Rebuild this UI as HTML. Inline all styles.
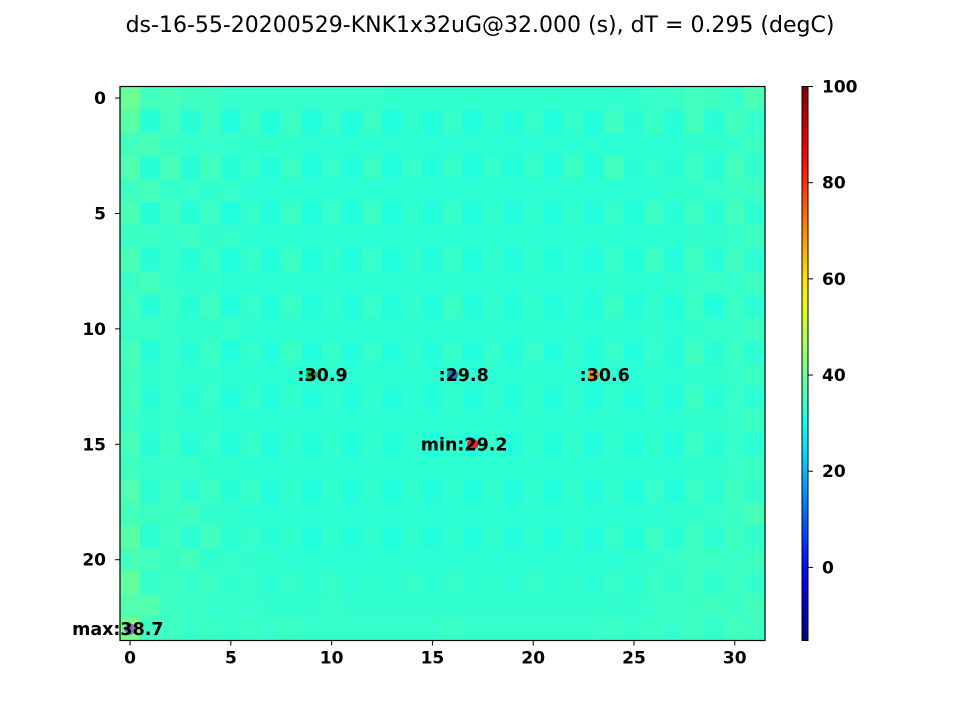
<!DOCTYPE html>
<html><head><meta charset="utf-8">
<style>
body{margin:0;background:#fff;}
svg{display:block;font-family:"DejaVu Sans","Liberation Sans",sans-serif;}
.tk{font-size:17px;font-weight:bold;fill:#000;}
.an{font-size:17.5px;font-weight:bold;fill:#000;}
</style></head>
<body>
<svg id="chart" width="960" height="720" viewBox="0 0 960 720">
<text x="480" y="32" text-anchor="middle" font-size="22">ds-16-55-20200529-KNK1x32uG@32.000 (s), dT = 0.295 (degC)</text>
<g id="cells"></g>
<g id="axes"></g>
<g id="cbar"></g>
<g id="ann"></g>
</svg>
<script>
const rowsData = [
[39,34.5,35,34,34,33,33,33,33,33,33,33,33,32.5,32.5,32.5,32.5,32.5,32.5,32.5,32.5,32.5,32.5,32.5,32.5,32.5,33,33.5,34.5,34,33,35.5],
[37,31.5,34.5,31.5,34,31,33.5,31,33.5,31,33,31,33.5,31,32.5,31,33,31,32.5,31,33,31,33,31,34,31.5,33.5,31.5,34.5,31.5,34.5,33],
[34.5,35,33.5,33,33,33,32.5,32.5,32.5,32,32,32,32,32,32,32,32,32,32,32,32,32,32,32,32,32,32,32,32.5,32.5,33,33.5],
[36,31.5,35,31.5,34.5,31.5,33,31,33.5,31,33,31,33.5,31,33,31,33,31,33,31,33,31,33.5,31,34.5,31.5,33,31.5,33.5,31.5,34.5,32.5],
[34,34.5,33,33,32.5,33,32,32,32,32,32,32,32,32,32,32,32,32,32,32,32,32,32,32,32,32,32,32.5,32.5,33,33.5,34],
[35.5,31.5,34,31.5,33.5,31,33,31,33.5,31,33,31,33.5,31,32.5,31,33,31,32.5,31,32.5,31,32.5,31,33,31,33.5,31.5,34,31.5,34.5,32],
[33.5,33.5,33,33.5,32.5,33,32,32,32,32,32,32,32,32,32,32,32,32,32,32,32,32,32,32,32,32,32,32,32.5,32.5,33,34],
[35,31.5,33,31.5,33.5,31,33,31,33.5,31,32.5,31,33,31,32.5,31,33,31,32.5,31,32.5,31,32,31,33,31,33.5,31,34,31.5,34,32],
[33.5,34.5,33,32.5,32.5,32,32,32,32,32,32,32,32,32,32,32,32,32,32,32,32,32,32,32,32.5,32,32,32.5,33,33.5,33,34],
[34.5,31.5,33.5,31.5,34,31,33,31,33.5,31,32.5,31,33,31,32.5,31,33.5,31,32.5,31,32.5,31,32,31,33.5,31,32.5,31,33.5,31,33.5,32],
[33.5,33.5,33,32.5,32.5,33,32,32,32,32,32,32,32,32,32,32,32,32,32,32,32,32,32,32,32,32,32.5,32,32.5,33,33,34],
[35,31.5,33,31.5,33.5,31,33,31,33.5,31,33,31,33,31,32.5,31,33,31,33,31,33,31,32.5,31,33,31,33,31,34,31.5,33.5,32],
[34,32.5,33,32.5,32.5,32,32,32,32,32,32,32,32,32,32,32,32,32,32,32,32,32,32,32,32,32,32,32,32.5,32.5,33,33.5],
[34.5,31.5,33,31.5,33,31,33,31,32.5,31,32.5,31,32.5,31,32,31,32.5,31,32.5,31,32.5,31,32.5,31,32.5,31,32.5,31,33.5,31.5,33,32],
[33.5,32.5,33,32.5,32.5,32,32,32,32,32,32,32,32,32,32,32,32,32,32,32,32,32,32,32,32,32,32,32,32.5,32.5,33,33.5],
[35,31.5,33.5,31.5,33,31,33,31,32.5,31,32.5,31,32.5,31,32.5,31,32.5,31,32.5,31,32.5,31,32.5,31,32.5,31,32.5,31,33.5,31.5,33,32],
[34,33,33,33,32.5,32.5,32,32,32,32,32,32,32,32,32,32,32,32,32,32,32,32,32,32,32,32,32,32,32.5,32.5,33,33.5],
[36,32,34,32,33.5,31.5,33,31,32.5,31,32.5,31,32.5,31,32.5,31,32.5,31,32.5,31,32.5,31,32.5,31,32.5,31,33,31,33.5,32,34,32.5],
[34.5,33.5,33.5,34,32.5,32.5,32,32,32,32,32,32,32,32,32,32,32,32,32,32,32,32,32,32,32,32,32,32.5,32.5,33,33.5,35],
[37,32,34,32,34.5,32,33,31.5,32.5,31,32.5,31,32.5,31,32.5,31,32.5,31,32.5,31,32.5,31,32.5,31,33,31,33.5,31.5,34,32,34,32.5],
[35,34.5,33.5,34.5,32.5,33,32.5,32.5,32,32,32,32,32,32,32,32,32,32,32,32,32,32,32,32,32,32.5,32.5,33,33.5,33.5,33.5,34],
[38,33,34,33,33.5,32.5,33,32,33,32,33,32,32.5,32,33,32,33,32,32.5,32,33,32,32.5,32,33,32,33.5,32.5,34,32.5,34,33],
[36,36,34,33.5,33,33,33,32.5,32.5,32.5,33,32.5,32.5,32.5,32.5,32.5,32.5,32.5,32.5,32.5,32.5,32.5,32.5,32.5,32.5,32.5,33,33.5,33.5,34,33.5,34.5],
[40,34,34,33,33.5,33,33.5,33,33.5,33,33,33,33,33,33,33,33.5,33,33,33,33,33,33,33,33.5,33,33.5,33,34,33,34.5,34]
];
const xTicks = [0,5,10,15,20,25,30];
const yTicks = [0,5,10,15,20];
const cbTicks = [0,20,40,60,80,100];
const annLabels = [":30.9",":29.8",":30.6","min:29.2","max:38.7"];
const annCols = [9,16,23,17,0];
const annRows = [12,12,12,15,23];
const annColors = ["#2ca02c","#1f77b4","#ff7f0e","#d62728","#9467bd"];
const vmin = -15.2, vmax = 100;
const cellShift = 1.0;

const NS="http://www.w3.org/2000/svg";
const L=120, T=86.5, W=645, H=554;
const nC=32, nR=24, cw=W/nC, rh=H/nR;
const xs = c => L + (c+0.5)*cw;
const ys = r => T + (r+0.5)*rh;
const cbY = v => T + H - (v - vmin)/(vmax - vmin)*H;
function jet(x){
  const cl=t=>Math.max(0,Math.min(1,t));
  const r=cl(1.5-Math.abs(4*x-3)), g=cl(1.5-Math.abs(4*x-2)), b=cl(1.5-Math.abs(4*x-1));
  return `rgb(${Math.round(r*255)},${Math.round(g*255)},${Math.round(b*255)})`;
}
function mk(tag,attrs,parent){const e=document.createElementNS(NS,tag);for(const k in attrs)e.setAttribute(k,attrs[k]);parent.appendChild(e);return e;}
const cells=document.getElementById('cells');
rowsData.forEach((row,r)=>row.forEach((v,c)=>{
  const e=mk('rect',{x:(L+c*cw).toFixed(2),y:(T+r*rh).toFixed(2),width:(cw+0.5).toFixed(2),height:(rh+0.5).toFixed(2),fill:jet((v+cellShift-vmin)/(vmax-vmin))},cells);
  
  
}));
const ax=document.getElementById('axes');
const fr=mk('rect',{x:L,y:T,width:W,height:H,fill:'none',stroke:'#000','stroke-width':1.2},ax);


xTicks.forEach(t=>{
  const x=xs(t);
  mk('line',{x1:x,y1:T+H,x2:x,y2:T+H+5,stroke:'#000'},ax);
  const tx=mk('text',{x:x,y:T+H+23,'text-anchor':'middle',class:'tk'},ax);tx.textContent=t;
  
  
});
yTicks.forEach(t=>{
  const y=ys(t);
  mk('line',{x1:L-5,y1:y,x2:L,y2:y,stroke:'#000'},ax);
  const tx=mk('text',{x:L-14,y:y+6,'text-anchor':'end',class:'tk'},ax);tx.textContent=t;
  
  
});
const cb=document.getElementById('cbar');
const defs=mk('defs',{},cb);
const lg=mk('linearGradient',{id:'jg',x1:0,y1:1,x2:0,y2:0},defs);
for(let i=0;i<=20;i++){mk('stop',{offset:i/20,'stop-color':jet(i/20)},lg);}
const cbr=mk('rect',{x:802,y:T,width:6,height:H,fill:'url(#jg)',stroke:'#000','stroke-width':1},cb);


cbTicks.forEach(t=>{
  const y=cbY(t);
  mk('line',{x1:808,y1:y,x2:813,y2:y,stroke:'#000'},cb);
  const tx=mk('text',{x:822,y:y+6,class:'tk'},cb);tx.textContent=t;
  
  
});
const an=document.getElementById('ann');
annLabels.forEach((s,i)=>{
  const x=xs(annCols[i]), y=ys(annRows[i]);
  const m=mk('circle',{cx:x,cy:y,r:5.5,fill:annColors[i]},an);
  
  
  const tx=mk('text',{x:x-14,y:y+6,class:'an'},an);
  if(s.startsWith('min')) tx.setAttribute('x',x-52);
  if(s.startsWith('max')) tx.setAttribute('x',x-58);
  tx.textContent=s;
  
  
});
</script>
</body></html>
